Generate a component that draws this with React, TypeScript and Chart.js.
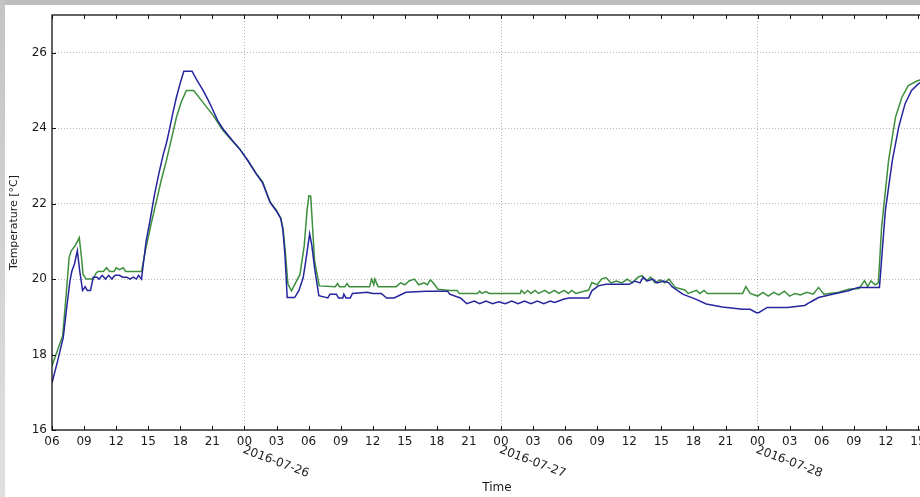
import React, { useEffect, useRef } from 'react';
import { Chart, registerables } from 'chart.js';

Chart.register(...registerables);

// Time in hours since 2016-07-25 00:00
const blueHours = [
  6.0, 6.5, 7.05, 7.4, 7.68, 7.85, 8.1, 8.37, 8.6, 8.86, 9.1, 9.3, 9.6, 9.86, 10.2, 10.4, 10.7, 11.0, 11.3, 11.6,
  11.9, 12.3, 12.6, 13.0, 13.3, 13.6, 13.9, 14.1, 14.37, 14.5, 14.8, 15.2, 15.6, 16.0, 16.4, 16.7, 17.0, 17.3, 17.64, 18.0,
  18.33, 19.1, 19.5, 20.13, 20.6, 21.07, 21.5, 22.0, 22.8, 23.55, 24.3, 25.1, 25.7, 26.4, 27.0, 27.4, 27.6, 27.8, 28.0, 28.7,
  29.1, 29.5, 29.8, 30.1, 30.3, 30.56, 30.96, 31.8, 32.0, 32.6, 32.8, 33.2, 33.3, 33.5, 33.9, 34.1, 35.5, 36.0, 36.8, 37.3,
  38.0, 39.1, 41.0, 42.0, 43.0, 43.2, 44.2, 44.8, 45.5, 46.0, 46.6, 47.2, 47.8, 48.4, 49.0, 49.6, 50.2, 50.8, 51.4, 52.0,
  52.6, 53.0, 53.4, 53.9, 54.4, 56.2, 56.5, 57.1, 57.8, 60.0, 60.5, 61.0, 61.3, 61.7, 62.2, 62.6, 63.2, 63.7, 64.0, 65.0,
  66.2, 67.2, 68.7, 70.6, 71.3, 71.9, 72.1, 72.9, 74.8, 76.4, 77.0, 77.7, 79.0, 80.5, 81.4, 83.4, 83.95, 84.6, 85.2, 85.8,
  86.4, 87.06, 88.0, 89.3,
];
const blueTemps = [
  17.25, 17.8, 18.45, 19.3, 19.95, 20.2, 20.4, 20.75, 20.2, 19.7, 19.8, 19.7, 19.7, 20.05, 20.05, 20.0, 20.1, 20.0, 20.1, 20.0,
  20.1, 20.1, 20.05, 20.05, 20.0, 20.05, 20.0, 20.1, 20.0, 20.3, 21.0, 21.6, 22.26, 22.8, 23.3, 23.6, 23.98, 24.4, 24.82, 25.2,
  25.51, 25.51, 25.3, 25.0, 24.75, 24.47, 24.2, 23.98, 23.7, 23.45, 23.15, 22.79, 22.55, 22.03, 21.8, 21.6, 21.3, 20.6, 19.51, 19.51,
  19.7, 20.04, 20.6, 21.2, 20.9, 20.3, 19.56, 19.5, 19.6, 19.6, 19.5, 19.5, 19.6, 19.5, 19.5, 19.62, 19.65, 19.62, 19.62, 19.5,
  19.5, 19.65, 19.68, 19.68, 19.68, 19.6, 19.5, 19.35, 19.42, 19.35, 19.42, 19.35, 19.4, 19.35, 19.42, 19.35, 19.42, 19.35, 19.42, 19.35,
  19.42, 19.38, 19.42, 19.47, 19.5, 19.5, 19.69, 19.82, 19.86, 19.86, 19.95, 19.9, 20.05, 19.95, 20.0, 19.9, 19.95, 19.9, 19.8, 19.6,
  19.47, 19.34, 19.26, 19.2, 19.2, 19.11, 19.11, 19.25, 19.25, 19.3, 19.4, 19.51, 19.6, 19.69, 19.78, 19.78, 21.81, 23.14, 24.03, 24.65,
  25.0, 25.18, 25.3, 25.35,
];

const greenHours = [
  6.0, 6.5, 7.0, 7.3, 7.6, 7.8, 8.2, 8.55, 8.75, 8.9, 9.2, 9.85, 10.1, 10.3, 10.8, 11.1, 11.4, 11.8, 12.0, 12.3,
  12.66, 12.9, 14.37, 14.5, 14.8, 15.3, 15.78, 16.2, 16.7, 17.2, 17.64, 18.1, 18.57, 19.25, 20.1, 21.07, 22.0, 22.8, 23.55, 24.3,
  25.1, 25.7, 26.4, 27.0, 27.4, 27.6, 27.8, 28.07, 28.4, 29.2, 29.6, 29.85, 30.03, 30.2, 30.56, 31.0, 32.5, 32.7, 32.9, 33.4,
  33.6, 33.8, 35.7, 35.9, 36.1, 36.2, 36.5, 38.2, 38.6, 39.0, 39.4, 39.9, 40.3, 40.8, 41.1, 41.4, 41.8, 42.1, 43.2, 43.9,
  44.1, 45.8, 46.0, 46.2, 46.6, 46.9, 49.8, 49.9, 50.2, 50.5, 50.8, 51.2, 51.5, 52.1, 52.5, 53.0, 53.4, 53.9, 54.3, 54.6,
  55.0, 56.2, 56.5, 57.0, 57.4, 57.8, 58.3, 58.8, 59.3, 59.8, 60.3, 60.8, 61.2, 61.6, 62.0, 62.4, 62.9, 63.3, 63.7, 64.3,
  65.2, 65.5, 66.3, 66.6, 67.0, 67.3, 70.6, 70.9, 71.3, 72.0, 72.5, 73.0, 73.5, 74.0, 74.5, 75.0, 75.5, 76.0, 76.6, 77.2,
  77.7, 78.2, 79.6, 80.5, 81.5, 82.0, 82.3, 82.6, 83.0, 83.3, 83.6, 84.25, 84.9, 85.5, 86.1, 86.9, 88.0, 89.3,
];
const greenTemps = [
  17.7, 18.1, 18.5, 19.5, 20.57, 20.75, 20.9, 21.1, 20.6, 20.13, 20.0, 20.0, 20.15, 20.2, 20.2, 20.3, 20.2, 20.2, 20.3, 20.25,
  20.3, 20.2, 20.2, 20.4, 20.84, 21.5, 22.08, 22.6, 23.14, 23.75, 24.29, 24.7, 25.0, 25.0, 24.69, 24.34, 23.94, 23.68, 23.45, 23.15,
  22.8, 22.58, 22.05, 21.82, 21.62, 21.35, 20.8, 19.87, 19.69, 20.13, 20.9, 21.8, 22.21, 22.2, 20.49, 19.82, 19.8, 19.88, 19.8, 19.8,
  19.88, 19.8, 19.8, 20.0, 19.85, 20.0, 19.8, 19.8, 19.9, 19.85, 19.95, 20.0, 19.85, 19.9, 19.85, 19.98, 19.85, 19.73, 19.7, 19.7,
  19.62, 19.62, 19.68, 19.62, 19.67, 19.62, 19.62, 19.7, 19.62, 19.7, 19.62, 19.7, 19.62, 19.7, 19.62, 19.7, 19.62, 19.7, 19.62, 19.7,
  19.62, 19.71, 19.91, 19.85, 20.0, 20.04, 19.9, 19.95, 19.9, 20.0, 19.9, 20.05, 20.09, 19.95, 20.05, 19.9, 19.98, 19.9, 20.0, 19.78,
  19.71, 19.62, 19.7, 19.62, 19.7, 19.62, 19.62, 19.8, 19.62, 19.55, 19.65, 19.55, 19.65, 19.58, 19.68, 19.55, 19.62, 19.58, 19.65, 19.6,
  19.78, 19.6, 19.65, 19.73, 19.75, 19.96, 19.8, 19.95, 19.85, 19.9, 21.37, 23.14, 24.29, 24.82, 25.13, 25.25, 25.35, 25.4,
];

const xTickHours = [6, 9, 12, 15, 18, 21, 24, 27, 30, 33, 36, 39, 42, 45, 48, 51, 54, 57, 60, 63, 66, 69, 72, 75, 78, 81, 84, 87];
const yTickValues = [16, 18, 20, 22, 24, 26];
const dayTickHours = [24, 48, 72];
const dayLabels = ['2016-07-26', '2016-07-27', '2016-07-28'];

const X_MIN = 6;
const X_MAX = 89.25;
const Y_MIN = 16;
const Y_MAX = 27;

const BLUE = '#25259e';
const GREEN = '#3d8f3d';
const GRID = 'rgba(0,0,0,0.28)';
const TEXT = '#1a1a1a';
const FONT = 'DejaVu Sans';

const framePlugin = {
  id: 'mplFrame',
  afterDatasetsDraw(chart: any) {
    const { ctx, chartArea, scales } = chart;
    const { left, right, top, bottom } = chartArea;
    const x = scales.x;
    const y = scales.y;
    ctx.save();
    ctx.strokeStyle = '#111';
    ctx.lineWidth = 1;
    ctx.beginPath();
    x.ticks.forEach((t: any) => {
      const px = Math.round(x.getPixelForValue(t.value)) + 0.5;
      ctx.moveTo(px, bottom);
      ctx.lineTo(px, bottom - 4);
      ctx.moveTo(px, top);
      ctx.lineTo(px, top + 4);
    });
    y.ticks.forEach((t: any) => {
      const py = Math.round(y.getPixelForValue(t.value)) + 0.5;
      ctx.moveTo(left, py);
      ctx.lineTo(left + 4, py);
    });
    ctx.stroke();
    ctx.lineWidth = 1.3;
    ctx.strokeStyle = '#111';
    ctx.strokeRect(left, top, right - left, bottom - top);
    ctx.restore();
  },
  afterDraw(chart: any) {
    const { ctx, scales } = chart;
    const x = scales.x;
    ctx.save();
    ctx.fillStyle = TEXT;
    ctx.font = `12px "${FONT}"`;
    ctx.textAlign = 'left';
    ctx.textBaseline = 'top';
    dayTickHours.forEach((h, i) => {
      const px = x.getPixelForValue(h);
      ctx.save();
      ctx.translate(px + 1, 444);
      ctx.rotate(0.36);
      ctx.fillText(dayLabels[i], 0, 0);
      ctx.restore();
    });
    ctx.restore();
  },
};

const pad2 = (v: number) => {
  const h = ((Math.round(v) % 24) + 24) % 24;
  return h < 10 ? `0${h}` : `${h}`;
};

export default function App() {
  const ref = useRef<HTMLCanvasElement>(null);

  useEffect(() => {
    const canvas = ref.current;
    if (!canvas) return;
    const chart = new Chart(canvas, {
      type: 'line',
      data: {
        datasets: [
          {
            label: 'T1',
            data: blueHours.map((h, i) => ({ x: h, y: blueTemps[i] })),
            borderColor: BLUE,
            backgroundColor: BLUE,
            borderWidth: 1.5,
            pointRadius: 0,
            tension: 0,
            fill: false,
          },
          {
            label: 'T2',
            data: greenHours.map((h, i) => ({ x: h, y: greenTemps[i] })),
            borderColor: GREEN,
            backgroundColor: GREEN,
            borderWidth: 1.5,
            pointRadius: 0,
            tension: 0,
            fill: false,
          },
        ],
      },
      options: {
        responsive: false,
        animation: false,
        events: [],
        layout: { padding: { top: 15, right: 18, bottom: 0, left: 0 } },
        plugins: {
          legend: { display: false },
          tooltip: { enabled: false },
        },
        scales: {
          x: {
            type: 'linear',
            min: X_MIN,
            max: X_MAX,
            afterBuildTicks: (s: any) => {
              s.ticks = xTickHours.map((v) => ({ value: v }));
            },
            afterFit: (s: any) => {
              s.height = 67;
            },
            ticks: {
              autoSkip: false,
              maxRotation: 0,
              minRotation: 0,
              padding: 5,
              color: TEXT,
              font: { family: FONT, size: 12 },
              callback: (v: any) => pad2(Number(v)),
            },
            grid: {
              color: (c: any) => (c.tick && c.tick.value % 24 === 0 ? GRID : 'rgba(0,0,0,0)'),
              lineWidth: 1,
              drawTicks: false,
            },
            border: { display: false, dash: [1, 2] },
            title: {
              display: true,
              text: 'Time',
              color: TEXT,
              font: { family: FONT, size: 12 },
              padding: { top: 0, bottom: 2 },
            },
          },
          y: {
            type: 'linear',
            min: Y_MIN,
            max: Y_MAX,
            afterBuildTicks: (s: any) => {
              s.ticks = yTickValues.map((v) => ({ value: v }));
            },
            afterFit: (s: any) => {
              s.width = 52;
            },
            ticks: {
              padding: 5,
              color: TEXT,
              font: { family: FONT, size: 12 },
              callback: (v: any) => `${v}`,
            },
            grid: {
              color: GRID,
              lineWidth: 1,
              drawTicks: false,
            },
            border: { display: false, dash: [1, 2] },
            title: {
              display: true,
              text: 'Temperature [°C]',
              color: TEXT,
              font: { family: FONT, size: 11 },
              padding: { top: 8, bottom: 0 },
            },
          },
        },
      },
      plugins: [framePlugin],
    });
    return () => chart.destroy();
  }, []);

  return (
    <div
      style={{
        position: 'fixed',
        left: 0,
        top: 0,
        width: 920,
        height: 497,
        overflow: 'hidden',
        background: '#ffffff',
      }}
    >
      <canvas
        ref={ref}
        width={960}
        height={497}
        style={{ position: 'absolute', left: 0, top: 0, width: 960, height: 497 }}
      />
      <div style={{ position: 'absolute', left: 0, top: 0, width: 920, height: 5, background: '#bdbdbd' }} />
      <div
        style={{
          position: 'absolute',
          left: 0,
          top: 0,
          width: 5,
          height: 497,
          background: 'linear-gradient(#c4c4c4, #e0e0e0)',
        }}
      />
    </div>
  );
}
